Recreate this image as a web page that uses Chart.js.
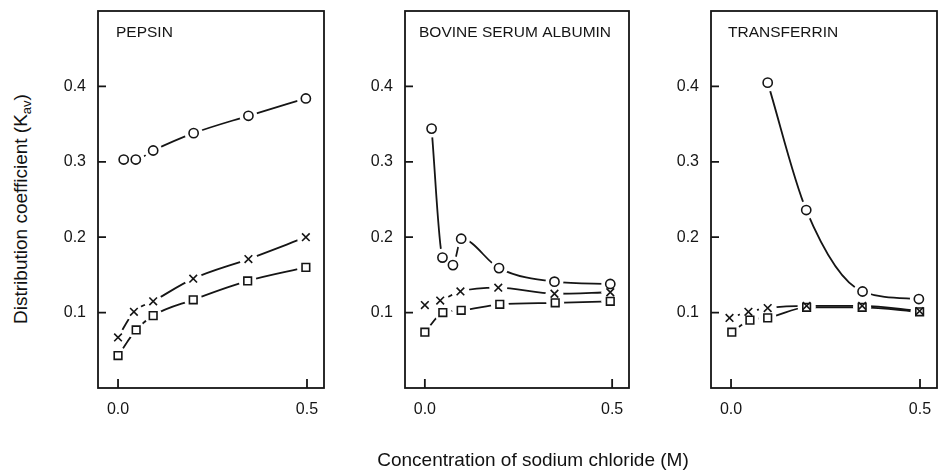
<!DOCTYPE html>
<html>
<head>
<meta charset="utf-8">
<script src="https://cdn.jsdelivr.net/npm/chart.js@4.4.1/dist/chart.umd.min.js"></script>
<style>
    body { margin: 0; background: #fff; width: 938px; height: 471px; overflow: hidden; position: relative;
        font-family: "Liberation Sans", Arial, Helvetica, sans-serif; color: #111; }
    canvas { position: absolute; top: 0; }
    #x-title { position: absolute; left: 533px; top: 460px; transform: translate(-50%, -50%);
        font-size: 19px; white-space: nowrap; }
    #y-title { position: absolute; left: 22px; top: 209px; transform: translate(-50%, -50%) rotate(-90deg);
        font-size: 19px; white-space: nowrap; }
    #y-title sub { font-size: 13px; vertical-align: -4px; }
</style>
</head>
<body>
<canvas id="panel-0" width="288" height="471" style="left:38px"></canvas>
<canvas id="panel-1" width="286" height="471" style="left:345px"></canvas>
<canvas id="panel-2" width="288" height="471" style="left:651px"></canvas>
<div id="x-title">Concentration of sodium chloride (M)</div>
<div id="y-title">Distribution coefficient (K<sub>av</sub>)</div>
<script>
// tick values shown on each panel
const xTicks = [0, 0.5];
const yTicks = [0.1, 0.2, 0.3, 0.4];

const panelNames = ['PEPSIN', 'BOVINE SERUM ALBUMIN', 'TRANSFERRIN'];

// pepsin
const pepsinCircleX = [0.015, 0.047, 0.093, 0.2, 0.345, 0.497];
const pepsinCircleY = [0.303, 0.303, 0.315, 0.338, 0.361, 0.384];
const pepsinCrossX = [0, 0.042, 0.093, 0.199, 0.345, 0.497];
const pepsinCrossY = [0.067, 0.101, 0.115, 0.145, 0.171, 0.200];
const pepsinSquareX = [0, 0.048, 0.093, 0.199, 0.343, 0.497];
const pepsinSquareY = [0.043, 0.077, 0.096, 0.117, 0.142, 0.160];

// bovine serum albumin
const bsaCircleX = [0.018, 0.047, 0.075, 0.097, 0.198, 0.346, 0.495];
const bsaCircleY = [0.344, 0.173, 0.163, 0.198, 0.159, 0.141, 0.138];
const bsaCrossX = [0, 0.041, 0.095, 0.196, 0.346, 0.495];
const bsaCrossY = [0.110, 0.116, 0.128, 0.133, 0.125, 0.127];
const bsaSquareX = [0, 0.048, 0.097, 0.2, 0.348, 0.495];
const bsaSquareY = [0.074, 0.100, 0.103, 0.111, 0.113, 0.115];

// transferrin
const trfCircleX = [0.097, 0.199, 0.348, 0.497];
const trfCircleY = [0.405, 0.236, 0.128, 0.118];
const trfCrossX = [-0.004, 0.046, 0.097, 0.2, 0.347, 0.499];
const trfCrossY = [0.093, 0.101, 0.106, 0.109, 0.109, 0.102];
const trfSquareX = [0.002, 0.05, 0.097, 0.2, 0.347, 0.499];
const trfSquareY = [0.074, 0.090, 0.093, 0.107, 0.107, 0.101];

const panels = [
    [[pepsinCircleX, pepsinCircleY, 'circle'], [pepsinCrossX, pepsinCrossY, 'crossRot'], [pepsinSquareX, pepsinSquareY, 'rect']],
    [[bsaCircleX, bsaCircleY, 'circle'], [bsaCrossX, bsaCrossY, 'crossRot'], [bsaSquareX, bsaSquareY, 'rect']],
    [[trfCircleX, trfCircleY, 'circle'], [trfCrossX, trfCrossY, 'crossRot'], [trfSquareX, trfSquareY, 'rect']]
];

const ink = '#151515';
const tickFont = { family: '"Liberation Sans", Arial, sans-serif', size: 16 };

function seriesDatasets(xs, ys, style) {
    const pts = xs.map((x, i) => ({ x: x, y: ys[i] }));
    const radius = style === 'circle' ? 4.6 : 5.4;
    return [
        // the curve
        { data: pts, showLine: true, borderColor: ink, borderWidth: 1.8, cubicInterpolationMode: 'monotone',
            pointRadius: 0, order: 3 },
        // white gap round each marker
        { data: pts, showLine: false, pointStyle: 'circle', pointRadius: 9, pointBackgroundColor: '#fff',
            pointBorderWidth: 0, order: 2 },
        // the marker
        { data: pts, showLine: false, pointStyle: style, pointRadius: radius, pointBorderColor: ink,
            pointBackgroundColor: '#fff', pointBorderWidth: 1.6, order: 1 }
    ];
}

// box, inward tick marks and panel name
const framePlugin = {
    id: 'frame',
    afterDraw(chart, args, opts) {
        const { ctx, chartArea: a, scales } = chart;
        ctx.save();
        ctx.strokeStyle = ink;
        ctx.lineWidth = 1.8;
        ctx.strokeRect(a.left, a.top, a.right - a.left, a.bottom - a.top);
        ctx.beginPath();
        for (const v of yTicks) {
            const y = scales.y.getPixelForValue(v);
            ctx.moveTo(a.left, y);
            ctx.lineTo(a.left + 8, y);
        }
        for (const v of xTicks) {
            const x = scales.x.getPixelForValue(v);
            ctx.moveTo(x, a.bottom);
            ctx.lineTo(x, a.bottom - 9);
        }
        ctx.stroke();
        ctx.fillStyle = ink;
        ctx.font = '15.5px "Liberation Sans", Arial, sans-serif';
        ctx.textBaseline = 'middle';
        ctx.fillText(opts.name, a.left + opts.nameDx, a.top + 22);
        ctx.restore();
    }
};

const nameOffsets = [18, 14, 17];

function noPadding(scale) {
    scale.paddingTop = 0;
    scale.paddingBottom = 0;
    scale.paddingLeft = 0;
    scale.paddingRight = 0;
}

panels.forEach((series, p) => {
    let datasets = [];
    for (const s of series) {
        datasets = datasets.concat(seriesDatasets(s[0], s[1], s[2]));
    }
    new Chart(document.getElementById('panel-' + p), {
        type: 'scatter',
        data: { datasets: datasets },
        options: {
            responsive: false,
            animation: false,
            layout: { autoPadding: false, padding: { top: 11, right: 2, left: 0, bottom: 0 } },
            plugins: {
                legend: { display: false },
                tooltip: { enabled: false },
                frame: { name: panelNames[p], nameDx: nameOffsets[p] }
            },
            scales: {
                x: {
                    type: 'linear',
                    min: -0.053,
                    max: 0.545,
                    grid: { display: false, drawTicks: false },
                    border: { display: false },
                    afterBuildTicks: scale => { scale.ticks = xTicks.map(v => ({ value: v })); },
                    afterFit: scale => { scale.height = 83; noPadding(scale); },
                    ticks: { color: ink, font: tickFont, padding: 12, maxRotation: 0,
                        callback: v => v.toFixed(1) }
                },
                y: {
                    type: 'linear',
                    min: 0,
                    max: 0.5,
                    grid: { display: false, drawTicks: false },
                    border: { display: false },
                    afterBuildTicks: scale => { scale.ticks = yTicks.map(v => ({ value: v })); },
                    afterFit: scale => { scale.width = 60; noPadding(scale); },
                    ticks: { color: ink, font: tickFont, padding: 12, callback: v => v.toFixed(1) }
                }
            }
        },
        plugins: [framePlugin]
    });
});
</script>
</body>
</html>
